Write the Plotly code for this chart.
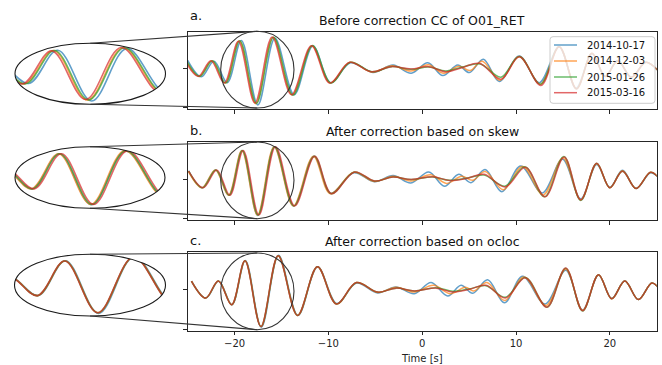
import numpy as np
import plotly.graph_objects as go

W, H = 662, 365

SERIES = ["2014-10-17", "2014-12-03", "2015-01-26", "2015-03-16"]
COLORS = ["#1f77b4", "#ff7f0e", "#2ca02c", "#d62728"]
COLORS_A = ["rgba(31,119,180,0.7)", "rgba(255,127,14,0.7)", "rgba(44,160,44,0.7)", "rgba(214,39,40,0.7)"]
TITLES = ["Before correction CC of O01_RET",
          "After correction based on skew",
          "After correction based on ocloc"]
LABELS = ["a.", "b.", "c."]
XTICKS = [-20, -10, 0, 10, 20]
XTICK_TEXT = ["\u221220", "\u221210", "0", "10", "20"]

# ---------------- panel a (before correction) ----------------
a_blue_t = [-25.0, -23.55, -22.2, -20.78, -19.28, -17.52, -15.7, -13.65, -11.65, -9.75, -7.65, -5.25, -3.1, -1.17,
            0.6, 2.2, 3.79, 5.03, 6.52, 8.22, 10.35, 12.48, 14.6, 16.4, 18.1, 19.5, 20.85, 22.3, 23.85, 25.4]
a_blue_v = [0.21, -0.21, 0.19, -0.36, 0.72, -0.93, 0.78, -0.67, 0.58, -0.36, 0.15, -0.10, 0.09, -0.12,
            0.15, -0.18, 0.09, -0.10, 0.24, -0.33, 0.32, -0.36, 0.55, -0.50, 0.38, -0.20, 0.21, -0.22, 0.16, -0.12]
a_orange_t = [-25.2, -23.77, -22.42, -21.0, -19.5, -17.74, -15.9, -13.85, -11.75, -9.8, -7.7, -5.35, -3.2, -1.2,
              0.65, 2.3, 3.9, 5.1, 6.4, 8.3, 10.35, 12.6, 14.6, 16.45, 18.1, 19.5, 20.85, 22.3, 23.85, 25.4]
a_orange_v = [0.21, -0.20, 0.20, -0.37, 0.71, -0.90, 0.80, -0.67, 0.58, -0.37, 0.16, -0.09, 0.07, -0.06,
              0.10, -0.12, 0.06, -0.05, 0.19, -0.30, 0.31, -0.40, 0.56, -0.51, 0.39, -0.20, 0.20, -0.22, 0.16, -0.12]
a_green_t = [-25.15, -23.71, -22.36, -20.94, -19.44, -17.68, -15.84, -13.78, -11.7, -9.75, -7.65, -5.35, -3.25, -1.2,
             0.7, 2.5, 4.3, 6.2, 8.4, 10.35, 12.6, 14.6, 16.45, 18.1, 19.5, 20.85, 22.3, 23.85, 25.4]
a_green_v = [0.21, -0.20, 0.20, -0.37, 0.71, -0.89, 0.80, -0.68, 0.59, -0.37, 0.16, -0.08, 0.05, -0.02,
             0.04, -0.06, 0.04, 0.12, -0.22, 0.31, -0.40, 0.56, -0.52, 0.39, -0.20, 0.20, -0.22, 0.16, -0.12]
a_red_t = [-25.3, -23.87, -22.52, -21.1, -19.6, -17.84, -16.0, -13.94, -11.81, -9.86, -7.73, -5.43, -3.3, -1.2,
           0.7, 2.55, 4.3, 6.1, 8.4, 10.35, 12.66, 14.6, 16.45, 18.1, 19.5, 20.85, 22.3, 23.85, 25.4]
a_red_v = [0.21, -0.20, 0.20, -0.37, 0.70, -0.88, 0.81, -0.67, 0.585, -0.37, 0.16, -0.08, 0.05, -0.01,
           0.05, -0.08, 0.03, 0.135, -0.27, 0.305, -0.43, 0.56, -0.52, 0.39, -0.20, 0.20, -0.22, 0.16, -0.12]

# ---------------- panel b (skew) ----------------
b_blue_t = [-24.9, -23.46, -22.02, -20.62, -19.2, -17.53, -15.76, -13.7, -11.55, -9.75, -7.3, -5.1, -3.1, -1.2,
            0.7, 2.37, 3.9, 5.2, 6.7, 8.5, 10.5, 12.8, 14.96, 16.9, 18.6, 20.0, 21.35, 22.8, 24.36, 25.5]
b_blue_v = [0.21, -0.22, 0.23, -0.41, 0.72, -0.92, 0.81, -0.68, 0.58, -0.36, 0.16, -0.07, 0.09, -0.10,
            0.18, -0.18, 0.12, -0.09, 0.24, -0.32, 0.33, -0.35, 0.50, -0.50, 0.37, -0.21, 0.22, -0.24, 0.16, -0.05]
b_orange_t = [-24.95, -23.49, -22.05, -20.65, -19.23, -17.56, -15.79, -13.74, -11.6, -9.8, -7.3, -5.1, -3.1, -1.2,
              0.9, 2.6, 4.2, 5.4, 6.7, 8.65, 10.7, 12.9, 15.0, 16.9, 18.6, 20.0, 21.35, 22.8, 24.36, 25.5]
b_orange_v = [0.20, -0.22, 0.23, -0.41, 0.72, -0.91, 0.82, -0.68, 0.58, -0.37, 0.17, -0.06, 0.07, -0.05,
              0.11, -0.11, 0.07, -0.03, 0.19, -0.27, 0.32, -0.40, 0.53, -0.52, 0.39, -0.22, 0.21, -0.24, 0.17, -0.05]
b_green_t = [-24.9, -23.42, -21.98, -20.58, -19.16, -17.49, -15.72, -13.67, -11.5, -9.7, -7.25, -5.1, -3.1, -1.2,
             1.1, 2.9, 4.7, 6.6, 8.8, 10.95, 13.05, 15.1, 16.9, 18.6, 20.0, 21.35, 22.8, 24.36, 25.5]
b_green_v = [0.20, -0.22, 0.23, -0.41, 0.72, -0.91, 0.82, -0.68, 0.58, -0.37, 0.18, -0.05, 0.05, -0.01,
             0.05, -0.03, 0.02, 0.10, -0.18, 0.31, -0.45, 0.57, -0.54, 0.40, -0.22, 0.20, -0.24, 0.17, -0.05]
b_red_t = [-24.9, -23.34, -21.9, -20.5, -19.08, -17.41, -15.64, -13.59, -11.46, -9.68, -7.2, -5.07, -3.12, -1.17,
           1.13, 2.9, 4.7, 6.6, 8.86, 11.0, 13.1, 15.14, 16.9, 18.6, 20.0, 21.35, 22.8, 24.36, 25.5]
b_red_v = [0.20, -0.22, 0.23, -0.41, 0.72, -0.91, 0.82, -0.68, 0.58, -0.37, 0.18, -0.05, 0.05, -0.01,
           0.06, -0.035, 0.015, 0.12, -0.20, 0.30, -0.45, 0.56, -0.53, 0.40, -0.22, 0.20, -0.24, 0.17, -0.05]

# ---------------- panel c (ocloc) ----------------
c_blue_t = [-24.6, -23.05, -21.7, -20.28, -18.86, -17.15, -15.32, -13.25, -11.15, -9.1, -7.0, -4.75, -2.8, -0.85,
            0.95, 2.73, 4.14, 5.38, 6.98, 8.76, 10.7, 13.1, 15.3, 17.1, 18.8, 20.2, 21.6, 23.05, 24.5, 25.5]
c_blue_v = [0.22, -0.21, 0.22, -0.38, 0.74, -0.95, 0.87, -0.65, 0.58, -0.35, 0.17, -0.08, 0.07, -0.10,
            0.18, -0.16, 0.11, -0.09, 0.25, -0.33, 0.34, -0.36, 0.49, -0.51, 0.37, -0.22, 0.22, -0.25, 0.17, -0.05]
c_orange_t = [-24.6, -23.07, -21.72, -20.3, -18.88, -17.18, -15.34, -13.28, -11.16, -9.12, -7.0, -4.75, -2.8, -0.85,
              1.2, 3.0, 4.6, 5.5, 6.9, 8.8, 10.85, 13.2, 15.3, 17.1, 18.8, 20.2, 21.6, 23.05, 24.5, 25.5]
c_orange_v = [0.22, -0.21, 0.22, -0.38, 0.73, -0.93, 0.86, -0.65, 0.58, -0.36, 0.18, -0.07, 0.06, -0.06,
              0.11, -0.10, 0.06, -0.03, 0.18, -0.27, 0.32, -0.40, 0.52, -0.52, 0.38, -0.23, 0.22, -0.25, 0.17, -0.05]
c_green_t = [-24.6, -23.08, -21.73, -20.31, -18.89, -17.19, -15.35, -13.29, -11.17, -9.14, -7.0, -4.72, -2.77, -0.82,
             1.49, 3.26, 5.03, 6.8, 8.86, 11.0, 13.3, 15.3, 17.1, 18.8, 20.2, 21.6, 23.05, 24.5, 25.5]
c_green_v = [0.22, -0.21, 0.22, -0.38, 0.73, -0.93, 0.86, -0.65, 0.58, -0.36, 0.18, -0.06, 0.04, -0.03,
             0.05, -0.04, 0.02, 0.10, -0.19, 0.31, -0.44, 0.54, -0.54, 0.38, -0.23, 0.22, -0.25, 0.17, -0.05]
c_red_t = [-24.6, -23.09, -21.74, -20.32, -18.9, -17.2, -15.36, -13.3, -11.17, -9.15, -7.02, -4.72, -2.77, -0.82,
           1.49, 3.26, 5.03, 6.8, 8.86, 11.0, 13.3, 15.3, 17.1, 18.8, 20.2, 21.6, 23.05, 24.5, 25.5]
c_red_v = [0.22, -0.21, 0.22, -0.38, 0.73, -0.93, 0.86, -0.65, 0.58, -0.36, 0.18, -0.06, 0.04, -0.03,
           0.04, -0.06, 0.01, 0.11, -0.21, 0.30, -0.44, 0.55, -0.53, 0.38, -0.23, 0.22, -0.25, 0.17, -0.05]

PANELS = [
    [(a_blue_t, a_blue_v), (a_orange_t, a_orange_v), (a_green_t, a_green_v), (a_red_t, a_red_v)],
    [(b_blue_t, b_blue_v), (b_orange_t, b_orange_v), (b_green_t, b_green_v), (b_red_t, b_red_v)],
    [(c_blue_t, c_blue_v), (c_orange_t, c_orange_v), (c_green_t, c_green_v), (c_red_t, c_red_v)],
]

XRANGE = [-25, 25]
YRANGE = [-1.035, 0.945]
ZOOM_XRANGE = [-21.5, -13.7]

# ---------------- layout geometry (pixels) ----------------
MAIN_X = (187.7, 656.7)
MAIN_Y = [(31.7, 109.0), (141.7, 220.0), (252.3, 330.7)]
INSET = [(15, 165.5, 43.3, 104.3), (15, 165.0, 146.7, 208.3), (14.5, 165.5, 254.3, 316.0)]
CIRCLE = [(220.7, 294.0, 31.3, 108.0), (220.7, 294.0, 142.0, 218.7), (220.7, 294.0, 253.0, 329.7)]
CONNECT = [
    [((90.3, 43.3), (257.3, 31.3)), ((90.3, 104.3), (257.3, 108.0))],
    [((90.0, 146.7), (257.3, 142.0)), ((90.0, 208.3), (257.3, 218.7))],
    [((90.0, 254.3), (257.3, 253.0)), ((90.0, 316.0), (257.3, 329.7))],
]
LEG_BOX = (550.0, 655.0, 36.7, 103.3)
LEG_ROWS = [45.0, 61.0, 77.0, 92.7]
LEG_LINE_X = (554.0, 577.0)
LEG_TEXT_X = 584.5


def px(x):
    return x / W


def py(y):
    return 1 - y / H


FONT = "DejaVu Sans"
FRAME = "#262626"

fig = go.Figure()
layout = dict(
    width=W, height=H, margin=dict(l=0, r=0, t=0, b=0),
    paper_bgcolor="white", plot_bgcolor="white",
    font=dict(family=FONT, size=10, color="black"),
    showlegend=False,
)

shapes = []
annotations = []

for i, series in enumerate(PANELS):
    mx = "x" if i == 0 else f"x{i + 1}"
    my = "y" if i == 0 else f"y{i + 1}"
    ix = f"x{i + 4}"
    iy = f"y{i + 4}"
    for k, (t, v) in enumerate(series):
        fig.add_trace(go.Scatter(
            x=t, y=v, mode="lines", name=SERIES[k], xaxis=mx, yaxis=my,
            line=dict(color=COLORS[k], width=1.5, shape="spline", smoothing=1),
            opacity=0.7, hoverinfo="skip"))
    for k, (t, v) in enumerate(series):
        fig.add_trace(go.Scatter(
            x=t, y=v, mode="lines", name=SERIES[k], xaxis=ix, yaxis=iy,
            line=dict(color=COLORS[k], width=1.6, shape="spline", smoothing=1),
            opacity=0.7, hoverinfo="skip"))

    top, bot = MAIN_Y[i]
    xa = dict(domain=[px(MAIN_X[0]), px(MAIN_X[1])], range=XRANGE, anchor=my,
              showgrid=False, zeroline=False, showline=True, mirror=True,
              linecolor=FRAME, linewidth=1, ticks="outside", ticklen=3.5, tickwidth=1,
              tickcolor=FRAME, tickvals=XTICKS, ticktext=XTICK_TEXT,
              showticklabels=(i == 2), tickfont=dict(size=10, color="#222"))
    ya = dict(domain=[py(bot), py(top)], range=YRANGE, anchor=mx,
              showgrid=False, zeroline=False, showline=True, mirror=True,
              linecolor=FRAME, linewidth=1, ticks="outside", ticklen=3.5, tickwidth=1,
              tickcolor=FRAME, tickvals=[-1, 0], showticklabels=False)
    layout["xaxis" if i == 0 else f"xaxis{i + 1}"] = xa
    layout["yaxis" if i == 0 else f"yaxis{i + 1}"] = ya

    x0, x1, y0, y1 = INSET[i]
    layout[f"xaxis{i + 4}"] = dict(domain=[px(x0), px(x1)], range=ZOOM_XRANGE, anchor=iy, visible=False)
    layout[f"yaxis{i + 4}"] = dict(domain=[py(y1), py(y0)], range=YRANGE, anchor=ix, visible=False)

    # white mask outside the ellipse (clips the inset to an ellipse)
    cx, cy = (x0 + x1) / 2, (y0 + y1) / 2
    rx, ry = (x1 - x0) / 2, (y1 - y0) / 2
    ang = np.linspace(np.pi, 0, 90)
    top_pts = [(cx + rx * np.cos(a), cy - ry * np.sin(a)) for a in ang]
    bot_pts = [(cx + rx * np.cos(a), cy + ry * np.sin(a)) for a in ang]
    pad = 3
    path_top = f"M {px(x0 - pad)},{py(cy)} " + " ".join(f"L {px(a)},{py(b)}" for a, b in top_pts) + \
        f" L {px(x1 + pad)},{py(cy)} L {px(x1 + pad)},{py(y0 - pad)} L {px(x0 - pad)},{py(y0 - pad)} Z"
    path_bot = f"M {px(x0 - pad)},{py(cy)} " + " ".join(f"L {px(a)},{py(b)}" for a, b in bot_pts) + \
        f" L {px(x1 + pad)},{py(cy)} L {px(x1 + pad)},{py(y1 + pad)} L {px(x0 - pad)},{py(y1 + pad)} Z"
    for p in (path_top, path_bot):
        shapes.append(dict(type="path", xref="paper", yref="paper", path=p,
                           fillcolor="white", line=dict(width=0), layer="above"))
    shapes.append(dict(type="circle", xref="paper", yref="paper",
                       x0=px(x0), x1=px(x1), y0=py(y1), y1=py(y0),
                       line=dict(color="#1a1a1a", width=1.1), layer="above"))
    c0, c1, cy0, cy1 = CIRCLE[i]
    shapes.append(dict(type="circle", xref="paper", yref="paper",
                       x0=px(c0), x1=px(c1), y0=py(cy1), y1=py(cy0),
                       line=dict(color="#333333", width=1.1), layer="above"))
    for (a0, b0), (a1, b1) in CONNECT[i]:
        shapes.append(dict(type="line", xref="paper", yref="paper",
                           x0=px(a0), y0=py(b0), x1=px(a1), y1=py(b1),
                           line=dict(color="#333333", width=1.1), layer="above"))

# legend box (rounded) with line samples and labels
lx0, lx1, ly0, ly1 = LEG_BOX
r = 3
leg_path = (f"M {px(lx0 + r)},{py(ly0)} L {px(lx1 - r)},{py(ly0)} Q {px(lx1)},{py(ly0)} {px(lx1)},{py(ly0 + r)} "
            f"L {px(lx1)},{py(ly1 - r)} Q {px(lx1)},{py(ly1)} {px(lx1 - r)},{py(ly1)} "
            f"L {px(lx0 + r)},{py(ly1)} Q {px(lx0)},{py(ly1)} {px(lx0)},{py(ly1 - r)} "
            f"L {px(lx0)},{py(ly0 + r)} Q {px(lx0)},{py(ly0)} {px(lx0 + r)},{py(ly0)} Z")
shapes.append(dict(type="path", xref="paper", yref="paper", path=leg_path,
                   fillcolor="rgba(255,255,255,0.8)", line=dict(color="#cccccc", width=1), layer="above"))
for k, yy in enumerate(LEG_ROWS):
    shapes.append(dict(type="line", xref="paper", yref="paper",
                       x0=px(LEG_LINE_X[0]), x1=px(LEG_LINE_X[1]), y0=py(yy), y1=py(yy),
                       line=dict(color=COLORS_A[k], width=1.5), layer="above"))
    annotations.append(dict(text=SERIES[k], xref="paper", yref="paper",
                            x=px(LEG_TEXT_X), y=py(yy), xanchor="left", yanchor="middle",
                            showarrow=False, font=dict(size=10, color="#111", family=FONT)))

# titles and panel letters
TITLE_Y = [20.0, 131.0, 241.5]
LABEL_Y = [15.5, 130.5, 241.0]
for i in range(3):
    annotations.append(dict(text=TITLES[i], xref="paper", yref="paper",
                            x=px((MAIN_X[0] + MAIN_X[1]) / 2), y=py(TITLE_Y[i]),
                            xanchor="center", yanchor="middle", showarrow=False,
                            font=dict(size=12.5, color="#111", family=FONT)))
    annotations.append(dict(text=LABELS[i], xref="paper", yref="paper",
                            x=px(187.7), y=py(LABEL_Y[i]),
                            xanchor="left", yanchor="middle", showarrow=False,
                            font=dict(size=13, color="#111", family=FONT)))
annotations.append(dict(text="Time [s]", xref="paper", yref="paper",
                        x=px((MAIN_X[0] + MAIN_X[1]) / 2), y=py(358),
                        xanchor="center", yanchor="middle", showarrow=False,
                        font=dict(size=10, color="#222", family=FONT)))

layout["shapes"] = shapes
layout["annotations"] = annotations
fig.update_layout(**layout)
fig.write_html("out.html")
